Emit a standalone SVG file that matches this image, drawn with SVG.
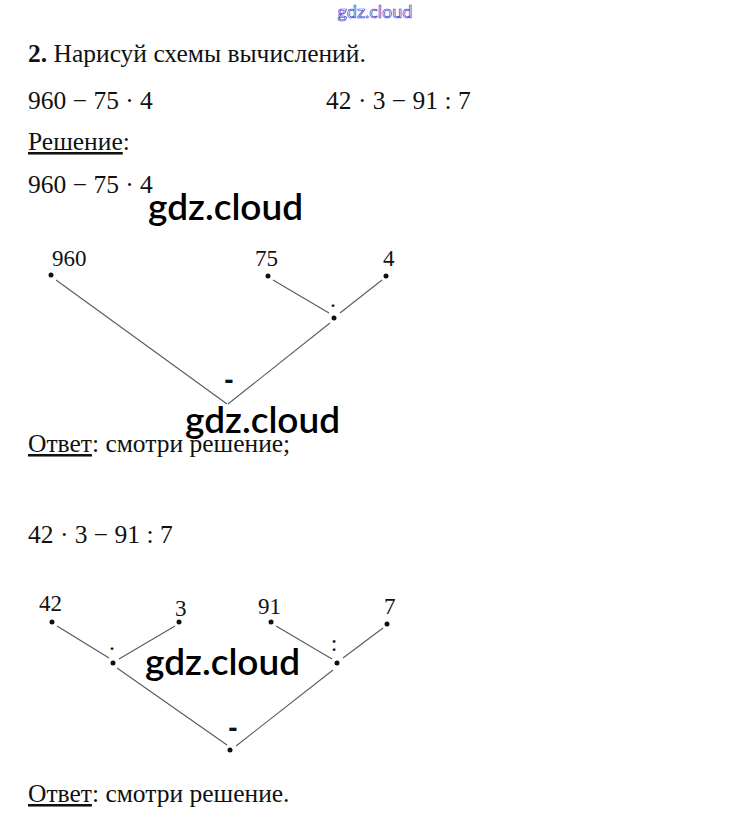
<svg xmlns="http://www.w3.org/2000/svg" width="749" height="825" viewBox="0 0 749 825">
<style>
.t{font-family:"Liberation Serif","Times New Roman",serif;font-size:25.5px;fill:#111}
.lb{font-family:"Liberation Serif","Times New Roman",serif;font-size:23px;fill:#111}
.op{font-family:"Liberation Serif","Times New Roman",serif;font-size:24px;fill:#111;text-anchor:middle}
.mn{font-family:"Liberation Sans",Arial,sans-serif;font-size:28px;font-weight:bold;fill:#111;text-anchor:middle}
.wm{font-family:Lato,"Open Sans",sans-serif;font-size:37px;font-weight:600;fill:#000}
.wt{font-family:Lato,"Open Sans",sans-serif;font-size:18px;fill:#fff;stroke:#3a3ad0;stroke-width:0.7}
.ln{stroke:#5a5a5a;stroke-width:1.1;fill:none}
.dot{fill:#111}
</style>
<rect width="749" height="825" fill="#fff"/>
<text class="wt" x="375" y="18" text-anchor="middle">gdz.cloud</text>
<text class="t" x="28" y="62"><tspan font-weight="bold">2.</tspan> Нарисуй схемы вычислений.</text>
<text class="t" x="28" y="109">960 − 75 · 4</text>
<text class="t" x="326" y="109">42 · 3 − 91 : 7</text>
<text class="t" x="28" y="150"><tspan text-decoration="underline">Решение</tspan>:</text>
<text class="t" x="28" y="193">960 − 75 · 4</text>

<g id="connectors">
<line class="ln" x1="56" y1="280" x2="227" y2="404"/>
<line class="ln" x1="273" y1="280" x2="329" y2="313"/>
<line class="ln" x1="382" y1="280" x2="340" y2="313"/>
<line class="ln" x1="330" y1="323" x2="228" y2="404"/>
<line class="ln" x1="57" y1="626" x2="109" y2="658"/>
<line class="ln" x1="175" y1="626" x2="119" y2="659"/>
<line class="ln" x1="117" y1="668" x2="227" y2="745"/>
<line class="ln" x1="276" y1="626" x2="332" y2="659"/>
<line class="ln" x1="383" y1="628" x2="343" y2="658"/>
<line class="ln" x1="333" y1="670" x2="236" y2="746"/>
</g>

<g id="n960"><text class="lb" x="52" y="266">960</text><circle class="dot" cx="51" cy="275" r="2.5"/></g>
<g id="n75"><text class="lb" x="255" y="266">75</text><circle class="dot" cx="268" cy="276" r="2.5"/></g>
<g id="n4"><text class="lb" x="383" y="266">4</text><circle class="dot" cx="386" cy="276" r="2.5"/></g>
<g id="mul1"><text class="op" x="333" y="313">·</text><circle class="dot" cx="334" cy="318" r="2.5"/></g>
<g id="sub1"><text class="mn" x="229" y="389">-</text></g>

<text class="wm" x="148" y="220">gdz.cloud</text>
<text class="wm" x="185" y="433">gdz.cloud</text>
<text class="t" x="28" y="452"><tspan text-decoration="underline">Ответ</tspan>: смотри решение;</text>

<text class="t" x="28" y="543">42 · 3 − 91 : 7</text>

<g id="n42"><text class="lb" x="39" y="611">42</text><circle class="dot" cx="52" cy="622" r="2.5"/></g>
<g id="n3"><text class="lb" x="175" y="616">3</text><circle class="dot" cx="179" cy="622" r="2.5"/></g>
<g id="n91"><text class="lb" x="258" y="614">91</text><circle class="dot" cx="271" cy="622" r="2.5"/></g>
<g id="n7"><text class="lb" x="384" y="614">7</text><circle class="dot" cx="387" cy="624" r="2.5"/></g>
<g id="mul2"><text class="op" x="112" y="656">·</text><circle class="dot" cx="113" cy="663" r="2.5"/></g>
<g id="div2"><text class="op" x="334" y="651" fill="#999" font-size="18">:</text><circle class="dot" cx="337" cy="663" r="2.5"/></g>
<g id="sub2"><text class="mn" x="233" y="737">-</text><circle class="dot" cx="230" cy="750" r="2.5"/></g>

<text class="wm" x="145" y="675">gdz.cloud</text>
<text class="t" x="28" y="802"><tspan text-decoration="underline">Ответ</tspan>: смотри решение.</text>
</svg>
